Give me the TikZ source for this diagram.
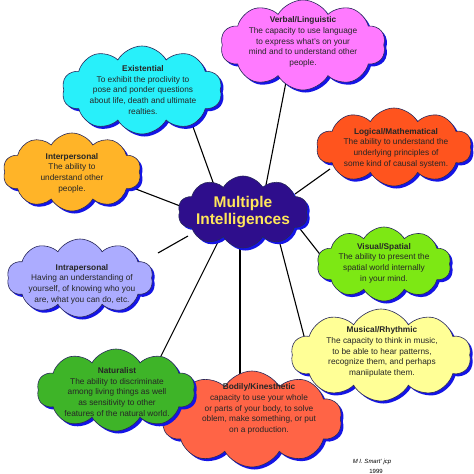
\documentclass[tikz,border=0pt]{standalone}
\usepackage{fontspec}
\setmainfont{Liberation Sans}
\usetikzlibrary{shapes.symbols,shadows}
\definecolor{cverbal}{RGB}{255,122,255}
\definecolor{cexist}{RGB}{40,240,250}
\definecolor{clogic}{RGB}{255,84,30}
\definecolor{cinter}{RGB}{255,180,40}
\definecolor{ccentral}{RGB}{46,14,140}
\definecolor{ctitle}{RGB}{255,230,90}
\definecolor{cintra}{RGB}{172,172,255}
\definecolor{cvisual}{RGB}{125,232,20}
\definecolor{cmusic}{RGB}{255,255,150}
\definecolor{cnatur}{RGB}{62,180,40}
\definecolor{cbodily}{RGB}{255,100,70}
\definecolor{cshadow}{RGB}{20,20,230}
\definecolor{cedge}{RGB}{40,40,90}
\tikzset{
  mycloud/.style={cloud, cloud puffs=10, cloud puff arc=120, cloud ignores aspect,
    draw=cedge, line width=0.6pt, inner sep=0pt,
    drop shadow={fill=cshadow, opacity=1, shadow xshift=2.5pt, shadow yshift=-2.5pt}},
  ctext/.style={align=center, font=\fontsize{8.3}{10.6}\selectfont, text=black!85},
  link/.style={line width=1.1pt, black},
}
\begin{document}
\begin{tikzpicture}[x=1pt,y=-1pt]
\useasboundingbox[fill=white] (0,0) rectangle (474,474);
% connector end points
\coordinate (cVerbal) at (266,185);
\coordinate (eVerbal) at (286,82);
\coordinate (cExist) at (214,185);
\coordinate (eExist) at (192,124);
\coordinate (cLogic) at (295,194);
\coordinate (eLogic) at (330,169);
\coordinate (cInter) at (188,209);
\coordinate (eInter) at (128,186);
\coordinate (cIntra) at (188,236);
\coordinate (eIntra) at (158,253);
\coordinate (cVisual) at (297,225);
\coordinate (eVisual) at (326,262);
\coordinate (cMusic) at (279,240);
\coordinate (eMusic) at (304,336);
\coordinate (cNatur) at (219,240);
\coordinate (eNatur) at (158,362);
\coordinate (cBodily) at (240,240);
\coordinate (eBodily) at (240,380);
\draw[link] (cVerbal) -- (eVerbal);
\draw[link] (cExist) -- (eExist);
\draw[link] (cLogic) -- (eLogic);
\draw[link] (cInter) -- (eInter);
\draw[link] (cIntra) -- (eIntra);
\draw[link] (cVisual) -- (eVisual);
\draw[link] (cMusic) -- (eMusic);
\draw[link] (cNatur) -- (eNatur);
\draw[link] (cBodily) -- (eBodily);
% clouds
\node[mycloud, fill=cverbal, minimum width=165pt, minimum height=90pt] (verbal) at (303,45) {};
\node[mycloud, fill=cexist, minimum width=160pt, minimum height=88pt] (exist) at (142,90) {};
\node[mycloud, fill=clogic, minimum width=155pt, minimum height=78pt] (logic) at (394,147) {};
\node[mycloud, fill=cinter, minimum width=138pt, minimum height=78pt] (inter) at (72,172) {};
\node[mycloud, fill=cintra, minimum width=146pt, minimum height=78pt] (intra) at (80,278) {};
\node[mycloud, fill=cvisual, minimum width=134pt, minimum height=74pt] (visual) at (384,264) {};
\node[mycloud, fill=cmusic, minimum width=180pt, minimum height=92pt] (music) at (381,355) {};
\node[mycloud, fill=cbodily, minimum width=180pt, minimum height=96pt] (bodily) at (252,419) {};
\node[mycloud, fill=cnatur, minimum width=158pt, minimum height=82pt] (natur) at (116,390) {};
\node[mycloud, fill=ccentral, minimum width=130pt, minimum height=72pt] (central) at (243,212) {};
% texts
\node[ctext] (verbalT) at (303,42) {\textbf{Verbal/Linguistic}\\The capacity to use language\\to express what's on your\\mind and to understand other\\people.};
\node[ctext] (existT) at (143,90) {\textbf{Existential}\\To exhibit the proclivity to\\pose and ponder questions\\about life, death and ultimate\\realties.};
\node[ctext] (logicT) at (396,148) {\textbf{Logical/Mathematical}\\The ability to understand the\\underlying principles of\\some kind of causal system.};
\node[ctext] (interT) at (72,173) {\textbf{Interpersonal}\\The ability to\\understand other\\people.};
\node[ctext] (intraT) at (82,284) {\textbf{Intrapersonal}\\Having an understanding of\\yourself, of knowing who you\\are, what you can do, etc.};
\node[ctext] (visualT) at (384,263) {\textbf{Visual/Spatial}\\The ability to present the\\spatial world internally\\in your mind.};
\node[ctext] (musicT) at (382,352) {\textbf{Musical/Rhythmic}\\The capacity to think in music,\\to be able to hear patterns,\\recognize them, and perhaps\\maniipulate them.};
\node[ctext] (naturT) at (117,392) {\textbf{Naturalist}\\The ability to discriminate\\among living things as well\\as sensitivity to other\\features of the natural world.};
\node[ctext] (bodilyT) at (259,409) {\textbf{Bodily/Kinesthetic}\\capacity to use your whole\\or parts of your body, to solve\\oblem, make something, or put\\on a production.};
\node[align=center, font=\fontsize{15.5}{17.5}\selectfont\bfseries, text=ctitle] (centralT) at (243,212) {Multiple\\Intelligences};
\node[font=\fontsize{6}{7}\selectfont\itshape] (sig) at (372,462) {M I. Smart' jcp};
\node[font=\fontsize{6}{7}\selectfont] (year) at (376,471) {1999};
\end{tikzpicture}
\end{document}
